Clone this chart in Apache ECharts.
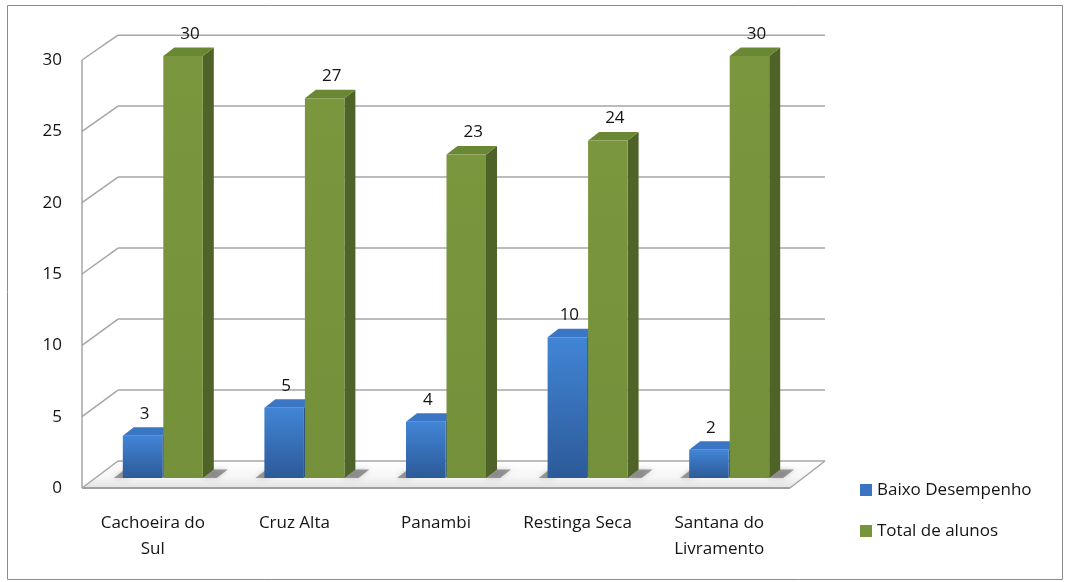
<!DOCTYPE html>
<html>
<head>
<meta charset="utf-8">
<script src="https://cdn.jsdelivr.net/npm/echarts@6/dist/echarts.min.js"></script>
<style>
  html, body { margin: 0; padding: 0; background: #ffffff; }
  #chart { width: 1066px; height: 582px; }
</style>
</head>
<body>
<div id="chart"></div>
<script>
// Categories and values
const categories = ['Cachoeira do\nSul', 'Cruz Alta', 'Panambi', 'Restinga Seca', 'Santana do\nLivramento'];
const baixoDesempenho = [3, 5, 4, 10, 2];
const totalAlunos = [30, 27, 23, 24, 30];
const yTicks = [0, 5, 10, 15, 20, 25, 30];
const seriesNames = ['Baixo Desempenho', 'Total de alunos'];

const FONT = "'Open Sans', 'Liberation Sans', sans-serif";
const TEXT = '#141414';
const LINE = '#a6a6a6';

// depth geometry of the pseudo-3D box
const WALL_DX = 36, WALL_DY = -27;     // back wall offset from the front plane
const BAR_DX = 11, BAR_DY = -8.5;      // depth of a single bar
const BAR_PLANE_DY = -10;              // bars stand slightly behind the front edge
const BAR_W = 39.5;

const chart = echarts.init(document.getElementById('chart'), null, { renderer: 'canvas' });

function wallsRender(params, api) {
  const v = api.value(1);
  const band = api.size([1, 0])[0];
  const base = api.coord([0, 0]);
  const left = base[0] - band / 2;
  const right = api.coord([categories.length - 1, 0])[0] + band / 2;
  const yf0 = base[1];
  const yf = api.coord([0, v])[1];
  const yb = yf0 + WALL_DY + (yf - yf0) * 0.995;
  const children = [];
  if (v === 0) {
    // floor
    children.push({
      type: 'polygon',
      shape: { points: [[left, yf0], [left + WALL_DX, yf0 + WALL_DY], [right + WALL_DX - 1, yf0 + WALL_DY], [right, yf0]] },
      style: { fill: new echarts.graphic.LinearGradient(0, 0, 0, 1, [
        { offset: 0, color: '#ffffff' }, { offset: 0.6, color: '#f6f6f6' }, { offset: 1, color: '#e2e2e2' }]) }
    });
    children.push({ type: 'line', shape: { x1: right, y1: yf0, x2: right + WALL_DX - 1, y2: yf0 + WALL_DY }, style: { stroke: LINE, lineWidth: 1.5 } });
    children.push({ type: 'line', shape: { x1: left, y1: yf0, x2: right, y2: yf0 }, style: { stroke: '#a0a0a0', lineWidth: 2 } });
    // left edge of the side wall
    const yTop = api.coord([0, yTicks[yTicks.length - 1]])[1];
    children.push({ type: 'line', shape: { x1: left, y1: yf0, x2: left, y2: yTop }, style: { stroke: LINE, lineWidth: 1.5 } });
  }
  children.push({ type: 'line', shape: { x1: left, y1: yf, x2: left + WALL_DX, y2: yb }, style: { stroke: LINE, lineWidth: 1.5 } });
  children.push({ type: 'line', shape: { x1: left + WALL_DX, y1: yb, x2: right + WALL_DX - 1, y2: yb }, style: { stroke: LINE, lineWidth: 1.5 } });
  return { type: 'group', children: children };
}

// soft floor shadows at both ends of each bar pair
function shadowRender(params, api) {
  const i = api.value(0);
  const b = api.coord([i, 0]);
  const yBase = b[1] + BAR_PLANE_DY;
  const xl = b[0] - 30, xr = b[0] + 10.5 + BAR_W;
  const wedge = (x0, x1) => ({
    type: 'polygon',
    shape: { points: [[x0, yBase], [x0 + BAR_DX, yBase + BAR_DY], [x1 + BAR_DX, yBase + BAR_DY], [x1, yBase]] },
    style: { fill: 'rgba(70,70,70,0.5)', shadowBlur: 5, shadowColor: 'rgba(0,0,0,0.35)' }
  });
  return { type: 'group', children: [wedge(xl - 9, xl + 4), wedge(xr - 2, xr + 14)] };
}

function barRenderer(xShift, colors, labelDx) {
  return function (params, api) {
    const i = api.value(0), v = api.value(1);
    const b = api.coord([i, 0]);
    const c = api.coord([i, v]);
    const yBase = b[1] + BAR_PLANE_DY;
    const yTop = yBase + (c[1] - b[1]) * 0.986;
    const x0 = b[0] + xShift, x1 = x0 + BAR_W;
    const labelY = yTop - 22;
    return {
      type: 'group',
      children: [
        { type: 'polygon', shape: { points: [[x1, yTop], [x1 + BAR_DX, yTop + BAR_DY], [x1 + BAR_DX, yBase + BAR_DY], [x1, yBase]] },
          style: { fill: colors.side } },
        { type: 'polygon', shape: { points: [[x0, yTop], [x0 + BAR_DX, yTop + BAR_DY], [x1 + BAR_DX, yTop + BAR_DY], [x1, yTop]] },
          style: { fill: colors.top } },
        { type: 'rect', shape: { x: x0, y: yTop, width: BAR_W, height: yBase - yTop },
          style: { fill: new echarts.graphic.LinearGradient(0, 0, 0, 1, [
            { offset: 0, color: colors.front[0] }, { offset: 1, color: colors.front[1] }]) } },
        { type: 'text', x: x0 + BAR_W / 2 + labelDx, y: labelY,
          style: { text: String(v), fill: TEXT, font: '17px ' + FONT, align: 'center', verticalAlign: 'middle' } }
      ]
    };
  };
}

const blueColors = { front: ['#4285d6', '#2c5a98'], side: '#284f86', top: '#3b76c4' };
const greenColors = { front: ['#7a973e', '#74903a'], side: '#4f6228', top: '#6a8733' };

const option = {
  backgroundColor: '#ffffff',
  animation: false,
  grid: { left: 82, right: 276, top: 60, bottom: 94, containLabel: false },
  xAxis: {
    type: 'category',
    data: categories,
    axisLine: { show: false },
    axisTick: { show: false },
    axisLabel: { color: TEXT, fontFamily: FONT, fontSize: 17, margin: 22, lineHeight: 26, interval: 0 }
  },
  yAxis: {
    type: 'value',
    min: 0, max: 30, interval: 5,
    axisLine: { show: false },
    axisTick: { show: false },
    splitLine: { show: false },
    axisLabel: { color: TEXT, fontFamily: FONT, fontSize: 17, margin: 20 }
  },
  legend: {
    orient: 'vertical',
    left: 860, top: 478,
    padding: 0,
    itemWidth: 12, itemHeight: 12, itemGap: 17,
    icon: 'rect',
    data: seriesNames,
    textStyle: { color: TEXT, fontFamily: FONT, fontSize: 17, lineHeight: 24 }
  },
  graphic: [
    { type: 'rect', shape: { x: 7.5, y: 5.5, width: 1055, height: 574 }, style: { fill: 'none', stroke: '#8c8c8c', lineWidth: 1 }, silent: true, z: 100 }
  ],
  series: [
    { type: 'custom', name: 'walls', renderItem: wallsRender, data: yTicks.map(v => [0, v]), clip: false, silent: true, z: 1 },
    { type: 'custom', name: 'shadow', renderItem: shadowRender, data: categories.map((c, i) => [i, 0]), clip: false, silent: true, z: 2 },
    { type: 'custom', name: seriesNames[0], renderItem: barRenderer(-30, blueColors, 2),
      data: baixoDesempenho.map((v, i) => [i, v]), clip: false, z: 3,
      itemStyle: { color: '#3a74c2' } },
    { type: 'custom', name: seriesNames[1], renderItem: barRenderer(10.5, greenColors, 7),
      data: totalAlunos.map((v, i) => [i, v]), clip: false, z: 4,
      itemStyle: { color: '#77933c' } }
  ]
};

chart.setOption(option);
</script>
</body>
</html>
